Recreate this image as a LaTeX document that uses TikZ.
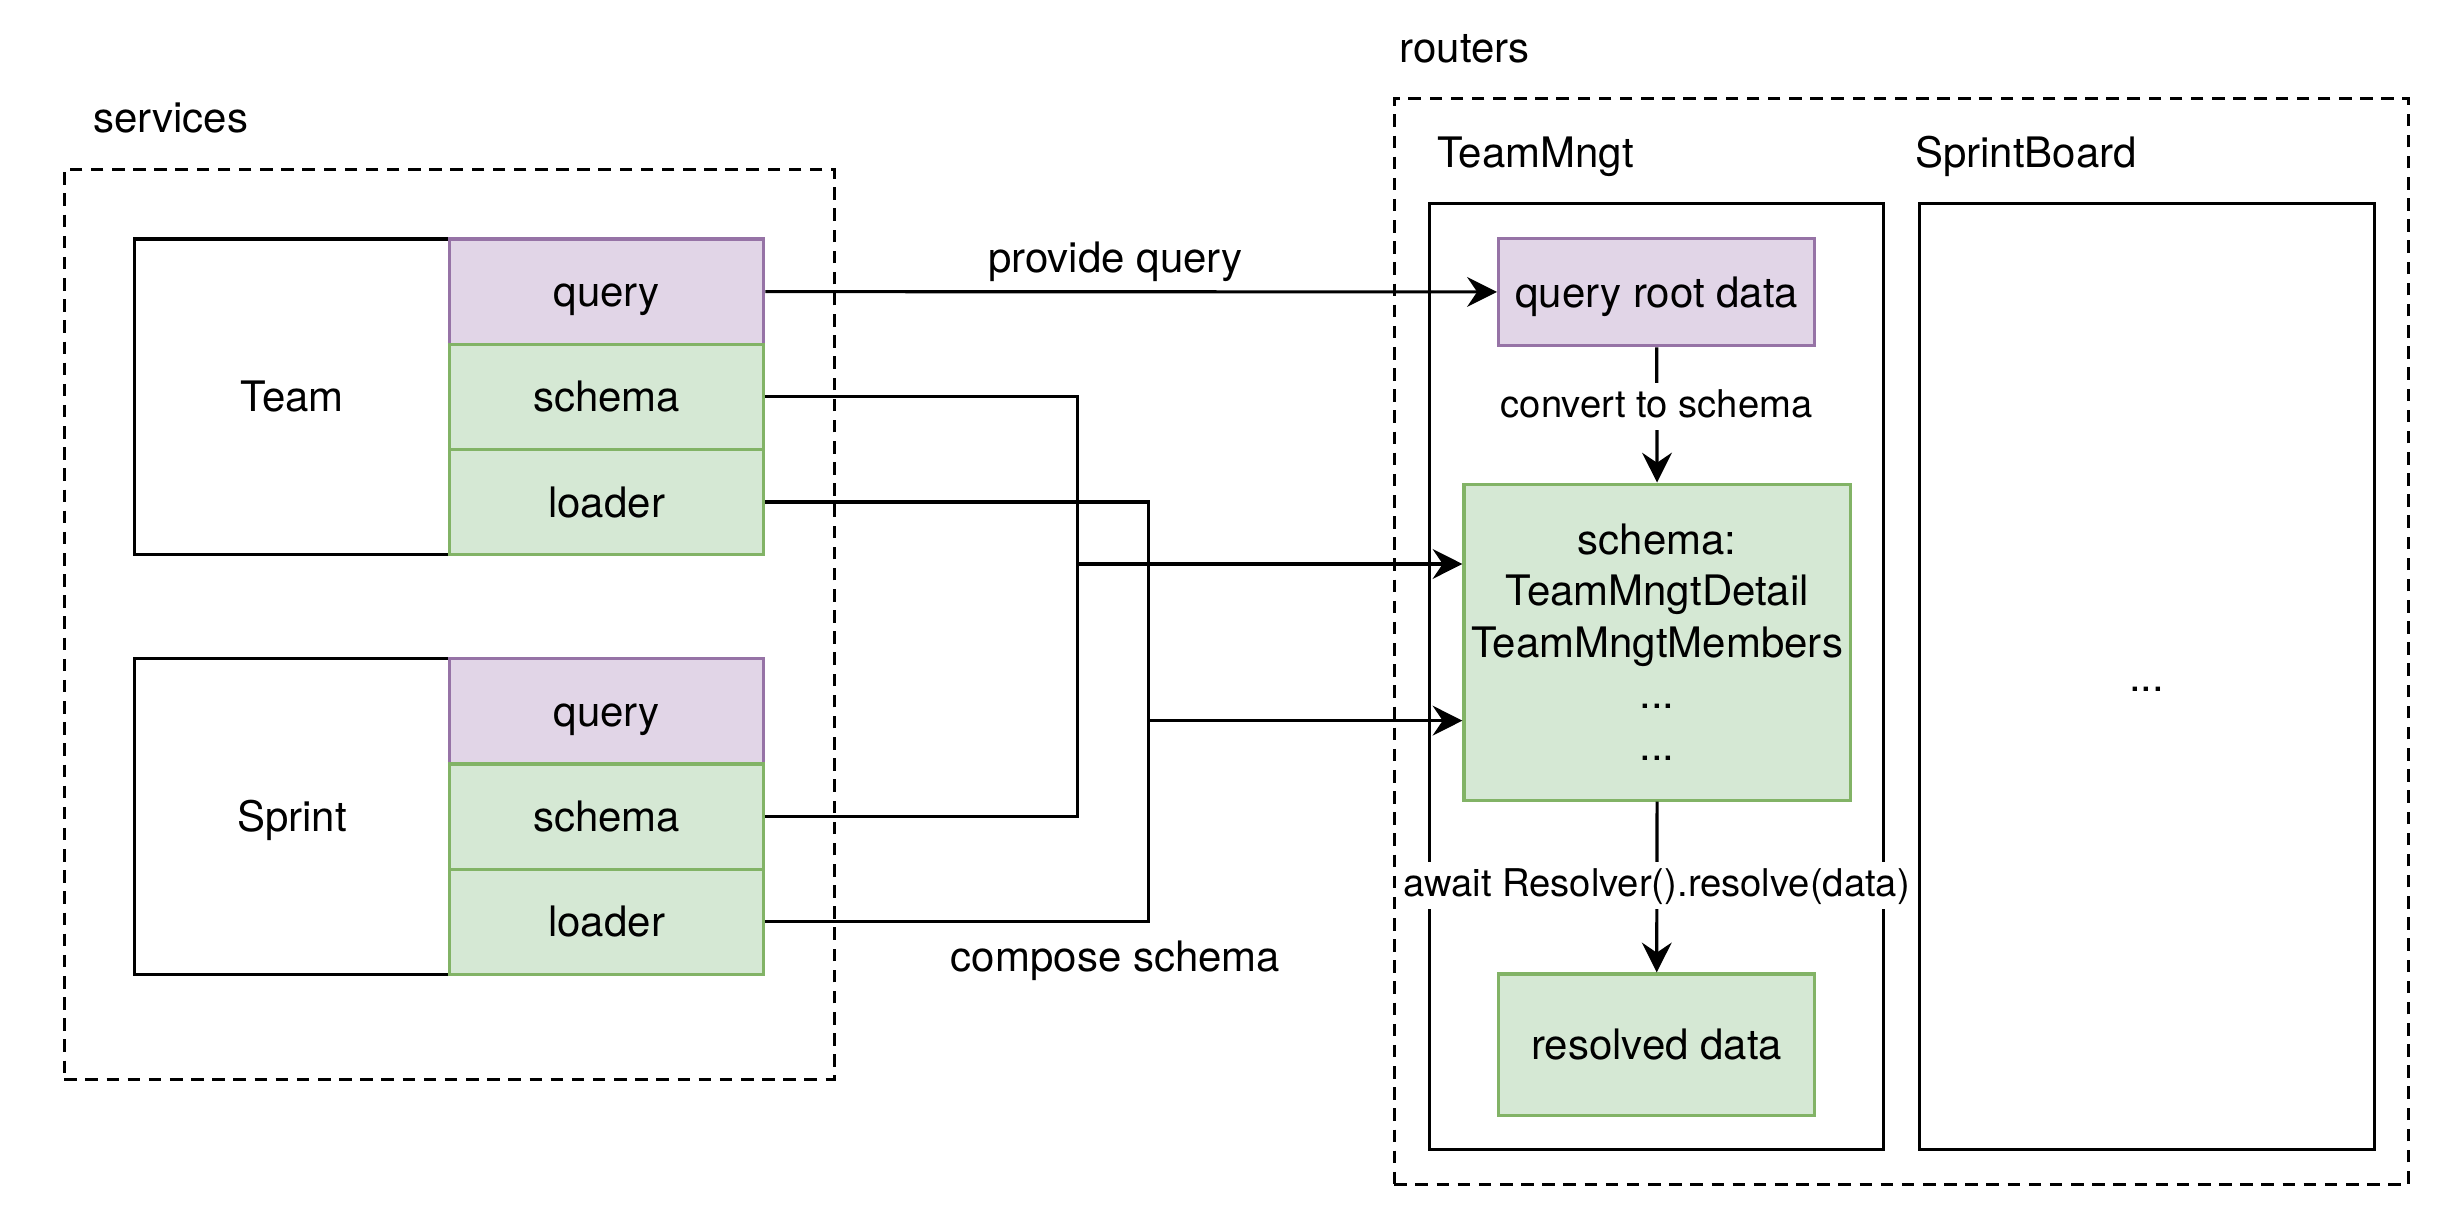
\documentclass[tikz,border=0pt]{standalone}
\usepackage{fontspec}
\setmainfont{TeX Gyre Heros}
\usetikzlibrary{arrows.meta}
\definecolor{pfill}{HTML}{E1D5E7}
\definecolor{pdraw}{HTML}{9673A6}
\definecolor{gfill}{HTML}{D5E8D4}
\definecolor{gdraw}{HTML}{82B366}
\begin{document}
\begin{tikzpicture}[x=0.5pt,y=-0.5pt,
  lw/.style={line width=1pt},
  mfont/.style={font=\fontsize{13.4pt}{16.4pt}\selectfont},
  efont/.style={font=\fontsize{12.2pt}{14.6pt}\selectfont},
  box/.style={draw=black, lw, inner sep=0pt, text height=9.65pt, text depth=0pt, mfont},
  whitebox/.style={box, fill=white},
  pbox/.style={box, fill=pfill, draw=pdraw},
  gbox/.style={box, fill=gfill, draw=gdraw},
  groupbox/.style={draw=black, lw, dash pattern=on 4pt off 2.75pt, inner sep=0pt},
  tlabel/.style={inner sep=0pt, mfont},
  elabel/.style={efont, fill=white, inner xsep=1pt, inner ysep=1pt, text height=10pt, text depth=3pt},
  conn/.style={lw, -{Stealth[length=9.5pt, width=9.5pt, inset=3.2pt]}},
  wire/.style={lw}
]
\useasboundingbox (0,0) rectangle (1569,781);

% group containers
\node[groupbox, minimum width=245.75pt, minimum height=290.5pt] (services) at (286.75,398.5) {};
\node[tlabel, anchor=base west] (servicesl) at (59,84.8) {services};
\node[groupbox, minimum width=323.75pt, minimum height=346.5pt] (routers) at (1213.75,409.5) {};
\node[tlabel, anchor=base west] (routersl) at (893,39.9) {routers};

% Team service
\node[whitebox, minimum width=100.5pt, minimum height=100.7pt] (team) at (186.5,253.3) {Team};
\node[pbox, minimum width=100.25pt, minimum height=33.57pt] (tquery) at (387.25,186.15) {query};
\node[gbox, minimum width=100.25pt, minimum height=33.57pt] (tschema) at (387.25,253.3) {schema};
\node[gbox, minimum width=100.25pt, minimum height=33.57pt] (tloader) at (387.25,320.45) {loader};

% Sprint service
\node[whitebox, minimum width=100.5pt, minimum height=100.75pt] (sprint) at (186.5,521.25) {Sprint};
\node[pbox, minimum width=100.25pt, minimum height=33.58pt] (squery) at (387.25,454.1) {query};
\node[gbox, minimum width=100.25pt, minimum height=33.58pt] (sschema) at (387.25,521.25) {schema};
\node[gbox, minimum width=100.25pt, minimum height=33.58pt] (sloader) at (387.25,588.4) {loader};

% routers
\node[tlabel, anchor=base west] (tmngl) at (917,107.2) {TeamMngt};
\node[tlabel, anchor=base west] (sbl) at (1222,107.2) {SprintBoard};
\node[whitebox, minimum width=145pt, minimum height=302pt] (tmng) at (1057.5,432) {};
\node[whitebox, minimum width=145.25pt, minimum height=302pt] (sboard) at (1370.25,432) {...};

\node[pbox, minimum width=101pt, minimum height=34.35pt] (qroot) at (1057.5,186.35) {query root data};
\node[gbox, text height=, text depth=, align=center, minimum width=123.25pt, minimum height=100.85pt] (sbox) at (1057.75,409.85)
  {schema:\\TeamMngtDetail\\TeamMngtMembers\\...\\...};
\node[gbox, minimum width=101pt, minimum height=45.15pt] (resolved) at (1057.5,666.85) {resolved data};

% internal arrows
\draw[conn] (qroot.south) -- (sbox.north);
\node[elabel, anchor=base] (lconv) at (1057.5,266.3) {convert to schema};
\draw[conn] (sbox.south) -- (resolved.north);
\node[elabel, anchor=base] (lres) at (1057.5,572.5) {await Resolver().resolve(data)};

% service to router connectors
\draw[conn] (tquery.east) -- (qroot.west);
\node[tlabel, anchor=base] (lprov) at (712,173.8) {provide query};

\coordinate (ja) at (688,360);
\coordinate (jb) at (733,460);
\draw[wire] (tschema.east) -| (ja);
\draw[wire] (sschema.east) -| (ja);
\draw[conn] (ja) -- (ja -| sbox.west);
\draw[wire] (tloader.east) -| (jb);
\draw[wire] (sloader.east) -| (jb);
\draw[conn] (jb) -- (jb -| sbox.west);
\node[tlabel, anchor=base] (lcomp) at (712,620) {compose schema};
\end{tikzpicture}
\end{document}
